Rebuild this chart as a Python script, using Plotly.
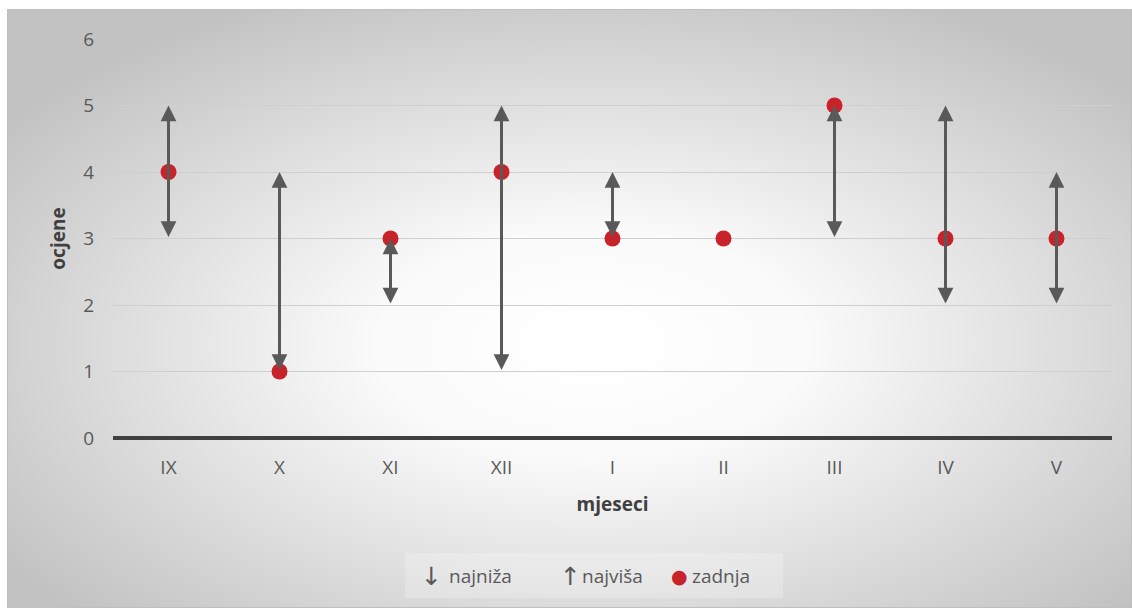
import base64
import plotly.graph_objects as go

months = ["IX", "X", "XI", "XII", "I", "II", "III", "IV", "V"]
lowest = [3, 1, 2, 1, 3, 3, 3, 2, 2]
highest = [5, 4, 3, 5, 4, 3, 5, 5, 4]
last = [4, 1, 3, 4, 3, 3, 5, 3, 3]
y_ticks = [0, 1, 2, 3, 4, 5, 6]

FONT = "Open Sans"
GREY_TXT = "#595959"
ARROW = "#595959"
RED = "#C8222A"

# plot area geometry (pixels) -> paper conversions
L, R, T, B = 113, 20, 39, 172
W, H = 1132, 610
pw, ph = W - L - R, H - T - B


def px_x(p):
    return (p - L) / pw


def px_y(p):
    return (H - B - p) / ph


svg = f'''<svg xmlns="http://www.w3.org/2000/svg" width="1125" height="599" viewBox="0 0 1125 599">
<defs><radialGradient id="g" cx="0.52" cy="0.56" r="0.64" gradientUnits="objectBoundingBox">
<stop offset="0" stop-color="#ffffff"/><stop offset="0.3" stop-color="#fafafa"/>
<stop offset="1" stop-color="#c2c2c2"/></radialGradient></defs>
<rect x="0" y="0" width="1125" height="599" fill="url(#g)"/>
<rect x="398" y="544" width="378" height="45" fill="#ffffff" fill-opacity="0.22"/>
<rect x="0.5" y="0.5" width="1124" height="598" fill="none" stroke="#bfbfbf" stroke-width="1"/>
</svg>'''
src = "data:image/svg+xml;base64," + base64.b64encode(svg.encode()).decode()

xs = list(range(len(months)))
fig = go.Figure()
fig.add_trace(go.Scatter(
    x=xs, y=last, mode="markers", name="zadnja",
    marker=dict(color=RED, size=16), showlegend=False, cliponaxis=False,
))

annotations = []
for i, (lo, hi) in enumerate(zip(lowest, highest)):
    if hi == lo:
        continue
    annotations.append(dict(
        x=i, y=hi, ax=i, ay=lo, xref="x", yref="y", axref="x", ayref="y",
        text="", showarrow=True, arrowside="end+start",
        arrowhead=2, startarrowhead=2, arrowsize=1.05, startarrowsize=1.05,
        arrowwidth=3, arrowcolor=ARROW, standoff=0, startstandoff=0,
    ))

# legend drawn as text
leg_y = px_y(576)
txt_font = dict(family=FONT, size=19, color=GREY_TXT)
sym_font = dict(family="DejaVu Sans", size=25, color=GREY_TXT)
legend_items = [
    (421, "↓", sym_font), (449, "najniža", txt_font),
    (560, "↑", sym_font), (582, "najviša", txt_font),
    (671, "●", dict(family="DejaVu Sans", size=19, color=RED)),
    (692, "zadnja", txt_font),
]
for px, t, f in legend_items:
    annotations.append(dict(
        x=px_x(px), y=leg_y, xref="paper", yref="paper", text=t,
        showarrow=False, xanchor="left", yanchor="middle", font=f,
        xshift=-2,
    ))

fig.update_layout(
    width=W, height=H,
    margin=dict(l=L, r=R, t=T, b=B),
    paper_bgcolor="white",
    plot_bgcolor="rgba(0,0,0,0)",
    showlegend=False,
    font=dict(family=FONT, size=19, color=GREY_TXT),
    images=[dict(source=src, xref="paper", yref="paper",
                 x=px_x(7), y=px_y(9), sizex=px_x(1132) - px_x(7),
                 sizey=px_y(9) - px_y(608), xanchor="left", yanchor="top",
                 sizing="stretch", layer="below")],
    annotations=annotations,
    xaxis=dict(
        range=[-0.5, len(months) - 0.5], tickvals=xs, ticktext=months,
        showgrid=False, zeroline=False, showline=False, ticks="",
        ticklabelstandoff=16,
        tickfont=dict(family=FONT, size=19, color=GREY_TXT),
        title=dict(text="<b>mjeseci</b>", standoff=18,
                   font=dict(family=FONT, size=19, color="#404040")),
    ),
    yaxis=dict(
        range=[0, 6], tickvals=y_ticks, showgrid=True, gridcolor="#cfcfcf",
        gridwidth=1, zeroline=True, zerolinecolor="#404040", zerolinewidth=4,
        showline=False, ticks="", ticklabelstandoff=18,
        tickfont=dict(family=FONT, size=19, color=GREY_TXT),
        title=dict(text="<b>ocjene</b>", standoff=12,
                   font=dict(family=FONT, size=19, color="#404040")),
    ),
)

fig.write_html("out.html")
